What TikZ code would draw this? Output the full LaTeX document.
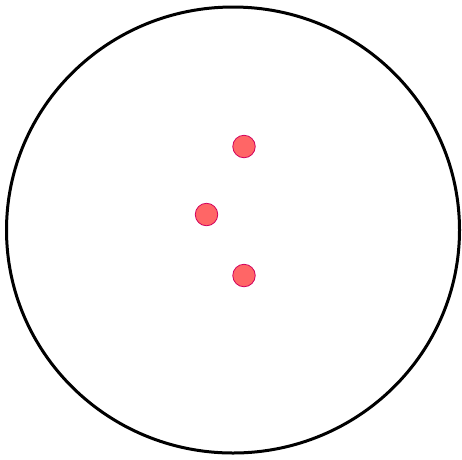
\documentclass[tikz,border=0pt]{standalone}
\usetikzlibrary{positioning}
\definecolor{dotfill}{HTML}{FF6666}
\definecolor{dotline}{HTML}{D1005E}
\begin{document}
\begin{tikzpicture}[x=1pt,y=-1pt]
\tikzstyle{dot} = [circle,fill=dotfill,draw=dotline,line width=0.8pt,minimum size=22.5pt,inner sep=0pt] %les points
\useasboundingbox (0,0) rectangle (462,459);

%le contour
\draw[line width=3pt] (233,230) ellipse (226.5 and 223);

%les points
\node[dot] (P1) at (244,146.5) {};
\node[dot] (P2) at (206.5,214.5) {};
\node[dot] (P3) at (244,275.5) {};
\end{tikzpicture}
\end{document}
